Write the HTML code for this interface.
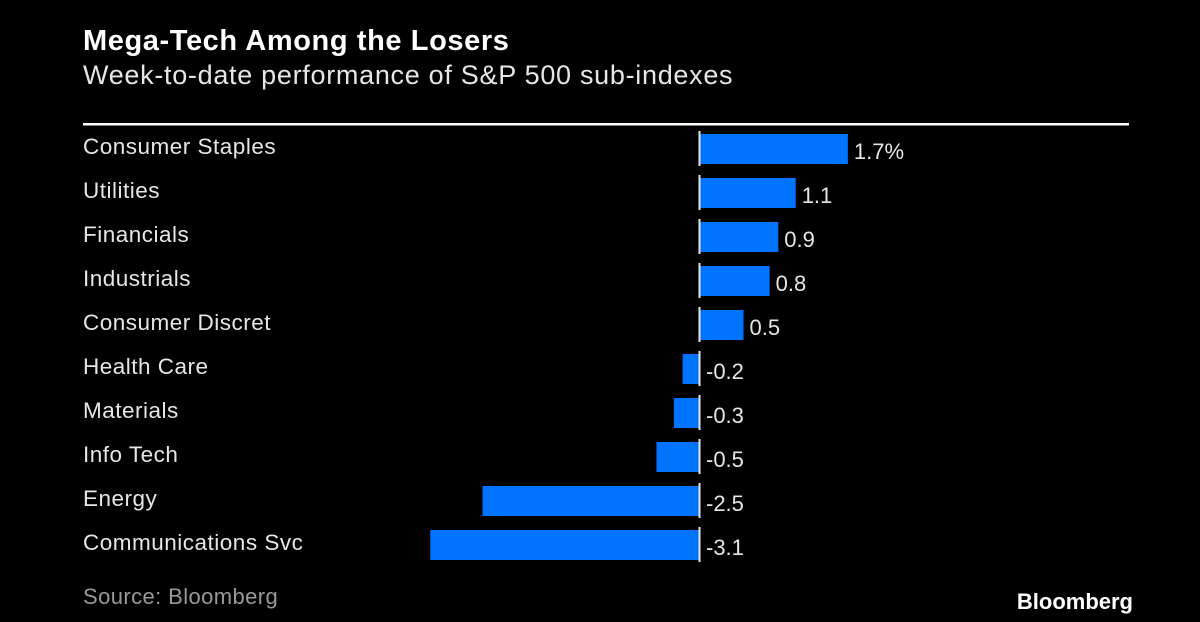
<!DOCTYPE html>
<html><head><meta charset="utf-8"><style>
body{margin:0;background:#000;width:1200px;height:622px;overflow:hidden;font-family:"Liberation Sans",sans-serif;color:#fff}
.t{position:absolute;left:83px;top:25px;font-size:29px;font-weight:bold;letter-spacing:0.6px}
.s{position:absolute;left:83px;top:60px;font-size:27px;color:#e6e6e6;letter-spacing:0.7px}
.src{position:absolute;left:83px;top:584px;font-size:22px;color:#999;letter-spacing:0.4px}
.bb{position:absolute;right:67px;top:589px;font-size:22px;font-weight:bold}
</style></head><body>
<div class="t">Mega-Tech Among the Losers</div>
<div class="s">Week-to-date performance of S&amp;P 500 sub-indexes</div>
<svg id="c" width="1200" height="622" style="position:absolute;left:0;top:0">
<rect x="83" y="123" width="1046" height="2.5" fill="#fff"/>
</svg>
<div class="src">Source: Bloomberg</div>
<div class="bb">Bloomberg</div>
<script>
const categories=["Consumer Staples","Utilities","Financials","Industrials","Consumer Discret","Health Care","Materials","Info Tech","Energy","Communications Svc"];
const values=[1.7,1.1,0.9,0.8,0.5,-0.2,-0.3,-0.5,-2.5,-3.1];
const valueLabels=["1.7%","1.1","0.9","0.8","0.5","-0.2","-0.3","-0.5","-2.5","-3.1"];
const svg=document.getElementById('c');const NS="http://www.w3.org/2000/svg";
const x0=700,k=87;
function xs(v){return x0+v*k;}
function yc(i){return 149+i*44;}
function mk(t,a){const e=document.createElementNS(NS,t);for(const n in a)e.setAttribute(n,a[n]);svg.appendChild(e);return e;}
categories.forEach((c,i)=>{
const v=values[i],y=yc(i);
const l=mk('text',{x:83,y:y+5,fill:'#e6e6e6','font-size':22.5,'letter-spacing':0.5,'font-family':'Liberation Sans, sans-serif'});l.textContent=c;


const xa=Math.min(xs(0),xs(v)),w=Math.abs(xs(v)-xs(0));
const b=mk('rect',{x:xa,y:y-15,width:w,height:30,fill:'#0073ff'});


const z=mk('rect',{x:x0-1.5,y:y-18,width:2,height:35,fill:'#e6e6e6'});


const t=mk('text',{x:v>=0?xs(v)+6:x0+6,y:y+10,fill:'#e6e6e6','font-size':22,'font-family':'Liberation Sans, sans-serif'});t.textContent=valueLabels[i];


});
</script>
</body></html>
